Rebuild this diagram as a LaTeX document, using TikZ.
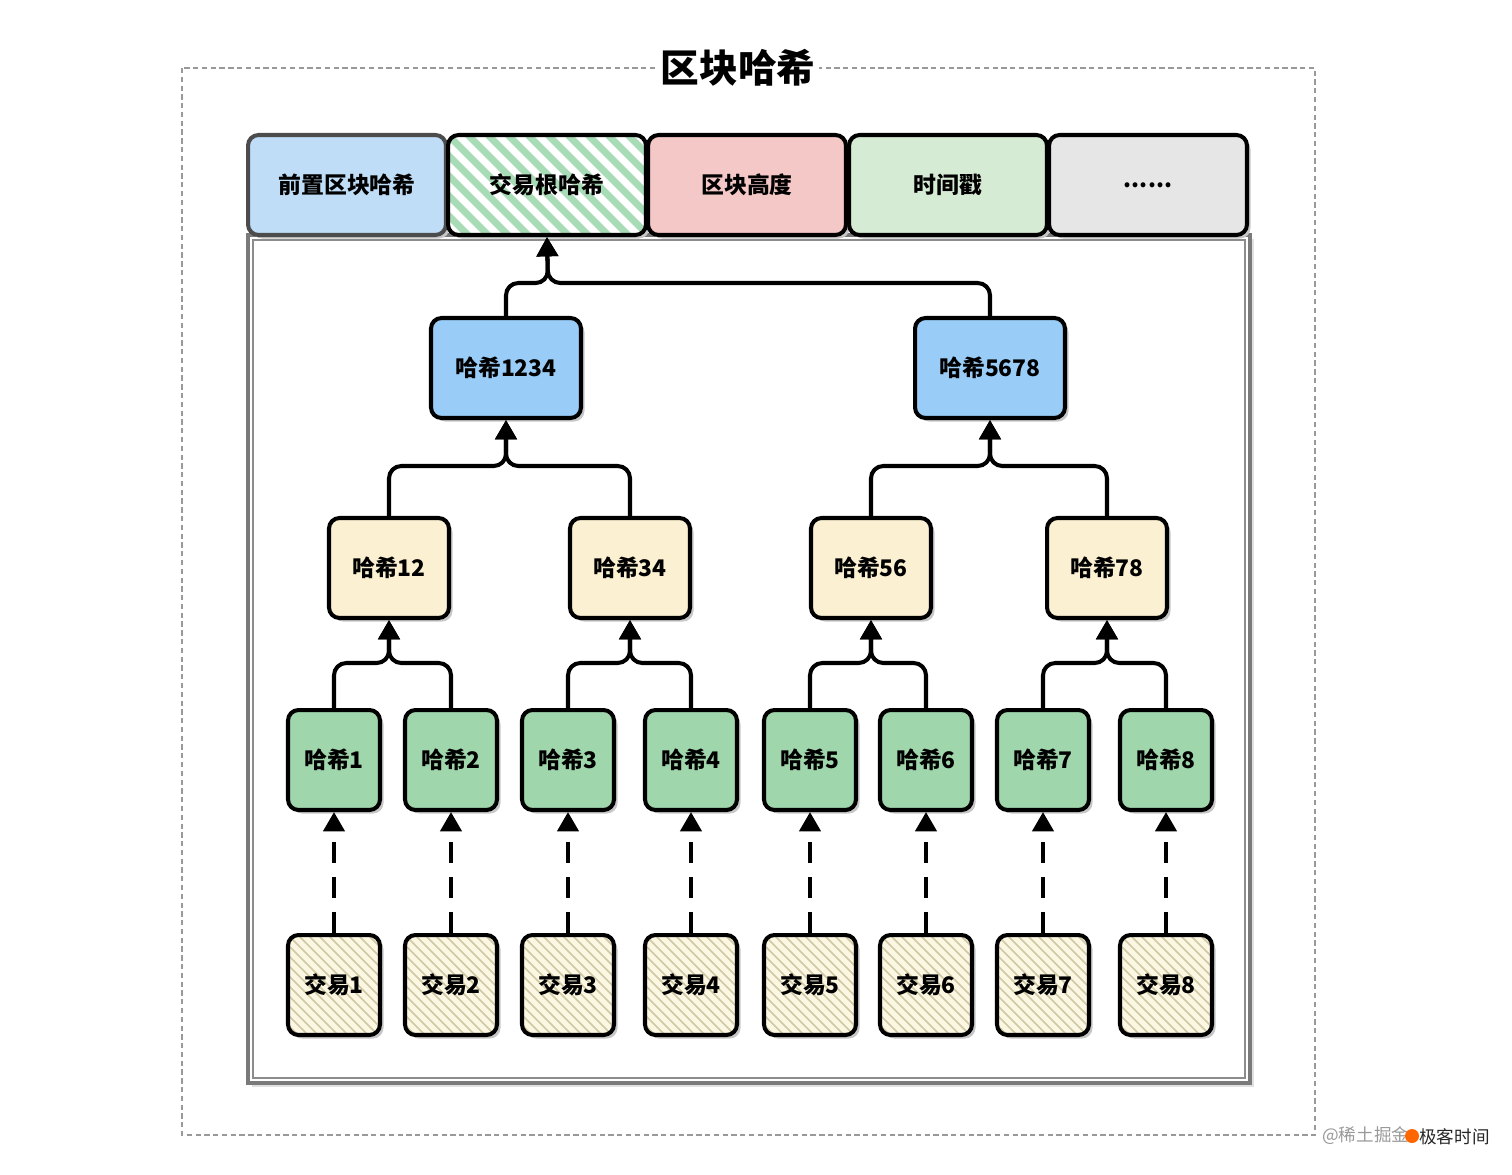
\documentclass[tikz,border=0pt]{standalone}
\usepackage{fontspec}
\newfontfamily\cjk{Noto Sans CJK SC}
\usetikzlibrary{arrows.meta,calc,shadows}
\definecolor{hdrblue}{HTML}{BFDDF7}
\definecolor{hdrpink}{HTML}{F4C8C6}
\definecolor{hdrgreen}{HTML}{D5EBD3}
\definecolor{hdrgray}{HTML}{E6E6E6}
\definecolor{rootline}{HTML}{A8DCB6}
\definecolor{midblue}{HTML}{99CCF7}
\definecolor{lvlyellow}{HTML}{FBF0D2}
\definecolor{leafgreen}{HTML}{A0D6AC}
\definecolor{txbg}{HTML}{FCF7E2}
\definecolor{txline}{HTML}{CFC8A4}
\definecolor{framegray}{HTML}{7A7A7A}
\begin{document}
\begin{tikzpicture}[x=0.02cm,y=-0.02cm,
  lbl/.style={font=\cjk\bfseries\fontsize{13}{15}\selectfont},
  box/.style={lbl, draw=black, line width=2.3pt, rounded corners=6pt, inner sep=0pt,
    minimum height=2cm,
    drop shadow={shadow xshift=2pt, shadow yshift=-2pt, fill=black!22, opacity=1}},
  hdr/.style={box, minimum width=3.96cm},
  hroot/.style={box, minimum width=3cm, fill=midblue},
  hmid/.style={box, minimum width=2.4cm, fill=lvlyellow},
  hleaf/.style={box, minimum width=1.84cm, fill=leafgreen},
  tx/.style={box, minimum width=1.84cm, fill=txbg,
    path picture={\foreach \k in {-11,...,10} \draw[line width=0.9pt, draw=txline]
      ($(path picture bounding box.north west)+(\k*10,0)$) -- ++(130,130);}},
  roothatch/.style={path picture={\foreach \k in {-6,...,11} \draw[line width=4pt, draw=rootline]
      ($(path picture bounding box.north west)+(\k*20,0)$) -- ++(130,130);}},
  conn/.style={line width=2.3pt, rounded corners=7pt, -{Triangle[width=12pt,length=11pt]}},
  dconn/.style={line width=2.3pt, dash pattern=on 12pt off 8pt, -{Triangle[width=12pt,length=11pt]}}
]
\useasboundingbox (0,0) rectangle (1512,1174);

% outer dashed frame and title
\draw[draw=black!40, line width=1pt, dash pattern=on 3pt off 2pt] (182,68) rectangle (1315,1135);
\node[fill=white, inner sep=2pt, font=\cjk\bfseries\fontsize{22}{26}\selectfont] (title) at (738,68) {区块哈希};

% inner frame
\fill[black!12] (252,239) rectangle (1254,1087);
\fill[white] (248,235) rectangle (1250,1083);
\draw[draw=framegray, line width=1.8pt] (248,235) rectangle (1250,1083);
\draw[draw=black!45, line width=0.8pt] (253,240) rectangle (1245,1078);

% header boxes
\node[hdr, fill=hdrblue, draw=black!70] (prev) at (347,185) {前置区块哈希};
\node[hdr, fill=white, roothatch] (root) at (547,185) {交易根哈希};
\node[hdr, fill=hdrpink] (height) at (747,185) {区块高度};
\node[hdr, fill=hdrgreen] (time) at (948,185) {时间戳};
\node[hdr, fill=hdrgray] (more) at (1148,185) {......};

% hash tree
\node[hroot] (h1234) at (506,368) {哈希1234};
\node[hroot] (h5678) at (990,368) {哈希5678};
\node[hmid] (h12) at (389,568) {哈希12};
\node[hmid] (h34) at (630,568) {哈希34};
\node[hmid] (h56) at (871,568) {哈希56};
\node[hmid] (h78) at (1107,568) {哈希78};
\foreach \i/\x in {1/334,2/451,3/568,4/691,5/810,6/926,7/1043,8/1166} {
  \node[hleaf] (h\i) at (\x,760) {哈希\i};
  \node[tx] (t\i) at (\x,985) {交易\i};
}

% junctions
\coordinate (j0) at (548,283);
\coordinate (jA) at (506,466);
\coordinate (jB) at (990,466);
\coordinate (j12) at (389,663);
\coordinate (j34) at (630,663);
\coordinate (j56) at (871,663);
\coordinate (j78) at (1107,663);

% connectors
\draw[conn] (h1234.north) |- (j0) -- (root.south);
\draw[conn] (h5678.north) |- (j0) -- (root.south);
\draw[conn] (h12.north) |- (jA) -- (h1234.south);
\draw[conn] (h34.north) |- (jA) -- (h1234.south);
\draw[conn] (h56.north) |- (jB) -- (h5678.south);
\draw[conn] (h78.north) |- (jB) -- (h5678.south);
\draw[conn] (h1.north) |- (j12) -- (h12.south);
\draw[conn] (h2.north) |- (j12) -- (h12.south);
\draw[conn] (h3.north) |- (j34) -- (h34.south);
\draw[conn] (h4.north) |- (j34) -- (h34.south);
\draw[conn] (h5.north) |- (j56) -- (h56.south);
\draw[conn] (h6.north) |- (j56) -- (h56.south);
\draw[conn] (h7.north) |- (j78) -- (h78.south);
\draw[conn] (h8.north) |- (j78) -- (h78.south);
\foreach \i in {1,...,8} \draw[dconn] (t\i.north) -- (h\i.south);

% watermark
\node[anchor=west, text=black!40, font=\cjk\fontsize{10}{12}\selectfont, inner sep=0pt] (wm) at (1322,1136) {@稀土掘金};
\fill[orange!80!red] (1412,1136) circle (7);
\node[anchor=east, text=black!85, font=\cjk\fontsize{10}{12}\selectfont, inner sep=0pt] (wm2) at (1490,1137) {极客时间};
\end{tikzpicture}
\end{document}
